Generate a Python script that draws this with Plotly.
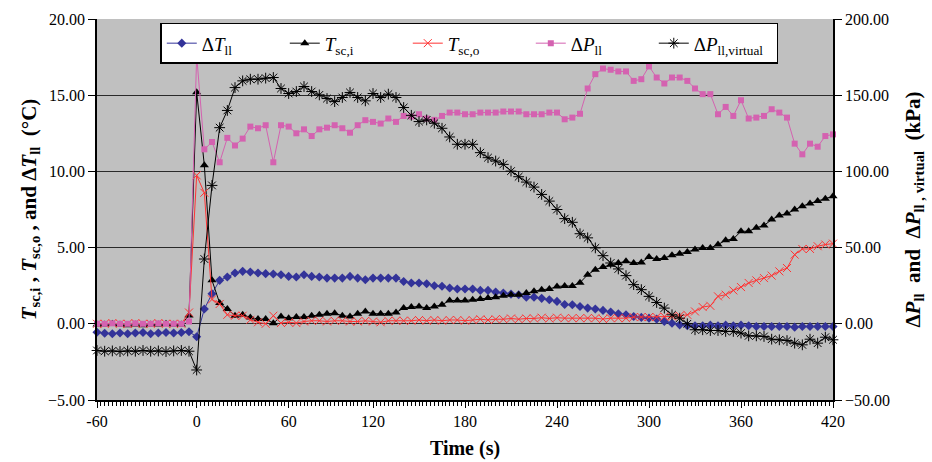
import plotly.graph_objects as go

# Sample number (one logged point per sample) and the time labels shown on the axis
sample = list(range(97))
tick_samples = [0, 13, 25, 36, 48, 60, 72, 84, 96]
tick_labels = ["-60", "0", "60", "120", "180", "240", "300", "360", "420"]

# Liquid-line temperature difference (°C)
dT_ll = [-0.55, -0.62, -0.65, -0.60, -0.65, -0.60, -0.57, -0.65, -0.60, -0.57, -0.60, -0.57, -0.52,
         -0.85, 0.97, 1.97, 2.85, 3.07, 3.33, 3.44, 3.40, 3.33, 3.29, 3.27,
         3.22, 3.11, 3.07, 3.22, 3.11, 3.07, 3.00, 3.00, 3.00, 3.11, 3.00, 2.89, 3.00, 3.00, 3.00, 3.00,
         2.78, 2.68, 2.68, 2.63, 2.50, 2.46, 2.35, 2.28, 2.28, 2.28, 2.19, 2.19, 2.08, 2.02, 1.95, 1.91,
         1.75, 1.75, 1.67, 1.58, 1.47, 1.27, 1.25, 1.14,
         1.03, 0.97, 0.88, 0.77, 0.66, 0.59, 0.48, 0.42, 0.37, 0.31, 0.15, 0.04, -0.07, -0.13,
         -0.13, -0.13, -0.09, -0.13, -0.09, -0.13, -0.09, -0.13, -0.18, -0.18, -0.18, -0.18, -0.18,
         -0.22, -0.18, -0.18, -0.18, -0.18, -0.18]

# Subcooler inlet temperature (°C)
T_sci = [-0.05, -0.05, 0.00, -0.05, -0.10, -0.05, -0.10, -0.05, -0.05, 0.00, -0.05, -0.05, 0.55,
         15.2, 10.4, 2.85, 1.36, 0.97, 0.53, 0.59, 0.42, 0.31, 0.31, 0.04,
         0.48, 0.37, 0.44, 0.44, 0.53, 0.59, 0.66, 0.70, 0.53, 0.48, 0.66, 0.81, 0.66, 0.66, 0.66, 0.74,
         1.03, 1.10, 1.14, 1.03, 1.14, 1.25, 1.53, 1.53, 1.53, 1.58, 1.62, 1.69, 1.75, 1.84, 1.90, 1.90,
         2.02, 2.13, 2.24, 2.28, 2.45, 2.48, 2.48, 2.70,
         3.22, 3.55, 3.73, 3.88, 3.99, 4.10, 3.99, 4.03, 4.39, 4.25, 4.32, 4.50, 4.60, 4.71, 4.87,
         4.98, 4.98, 5.20, 5.48, 5.57, 6.07, 6.07, 6.30, 6.45, 6.84, 7.10, 7.24, 7.50, 7.72, 7.90,
         8.05, 8.20, 8.37]

# Subcooler outlet temperature (°C)
T_sco = [0.00, 0.00, 0.05, 0.00, 0.00, 0.05, 0.00, 0.00, 0.05, 0.00, 0.00, 0.00, 0.74,
         9.74, 8.60, 1.60, 1.30, 0.59, 0.53, 0.53, 0.26, 0.10, 0.00, 0.53, 0.05,
         0.10, 0.05, 0.15, 0.20, 0.20, 0.15, 0.20, 0.20, 0.15, 0.15, 0.20, 0.15, 0.10, 0.20, 0.20,
         0.20, 0.20, 0.25, 0.20, 0.25, 0.20, 0.25, 0.25, 0.20, 0.25, 0.30, 0.25, 0.30, 0.30, 0.35,
         0.30, 0.35, 0.35, 0.40, 0.35, 0.40,
         0.37, 0.37, 0.37, 0.37, 0.37, 0.31, 0.37, 0.37, 0.37, 0.44, 0.44, 0.44, 0.44, 0.48, 0.48,
         0.53, 0.59, 0.81, 1.10, 1.18, 1.80, 1.91, 2.19, 2.41, 2.68, 2.85, 3.00, 3.16, 3.44, 3.66,
         4.54, 4.91, 4.91, 5.09, 5.20, 5.26]

# Liquid-line pressure drop (kPa)
dP_ll = [0.0, 0.0, 0.3, 0.0, 0.0, 0.3, 0.0, 0.0, 0.3, 0.0, 0.0, 0.0, 1.5,
         176.0, 114.5, 119.3, 106.0, 122.0, 117.0, 121.5, 129.4, 128.3, 130.3, 106.0, 130.3,
         129.4, 125.0, 127.6, 123.2, 127.6, 128.7, 130.3, 128.3, 125.4, 130.3,
         133.6, 132.5, 131.4, 134.7, 132.5, 136.4, 136.0, 137.5, 134.7, 133.8,
         136.4, 138.6, 138.6, 137.5, 137.5, 138.6, 138.6, 138.6, 139.3, 139.3,
         139.3, 137.5, 137.5, 137.5, 138.6, 138.6, 134.2, 135.3, 137.8,
         154.4, 163.8, 167.5, 166.7, 165.6, 165.6, 159.4, 160.5, 168.9, 161.6, 157.7, 161.6,
         161.6, 159.4, 154.4, 150.7, 150.7, 137.5, 142.3, 136.4, 146.7, 134.7, 135.3, 136.4,
         140.8, 138.6, 135.3, 118.2, 111.2, 118.2, 116.2, 123.2, 124.3]

# Virtual liquid-line pressure drop (kPa)
dP_ll_virtual = [-17.5, -18.0, -17.8, -18.2, -17.8, -18.0, -17.5, -18.0, -17.8, -18.2, -17.8, -17.5, -18.0,
                 -30.3, 42.5, 90.8, 128.7, 140.0, 155.0, 159.4, 160.5, 160.5, 161.2, 161.6, 154.4,
                 151.1, 152.4, 155.7, 152.4, 150.2, 147.8, 145.8, 148.5, 151.8, 148.5,
                 146.3, 151.1, 148.5, 150.7, 148.5, 141.9, 136.8, 132.7, 133.8, 131.6,
                 128.3, 122.6, 117.8, 117.8, 117.8, 112.3, 109.0, 106.8, 104.6, 100.2,
                 96.5, 93.0, 89.7, 84.9, 80.5, 75.0, 69.0, 66.6, 59.1,
                 56.4, 49.8, 44.7, 39.9, 36.0, 31.6, 25.7, 22.4, 18.0, 14.0, 10.3, 5.9, 3.7, 0.0,
                 -3.9, -3.9, -4.4, -4.4, -5.0, -5.0, -6.1, -7.9, -7.9, -8.3, -10.1, -10.5, -11.0,
                 -12.7, -13.8, -10.1, -12.7, -8.8, -10.5]

SERIF = "Liberation Serif, Times New Roman, serif"
NAVY = "#333399"
RED = "#ff3333"
PINK = "#d462b0"

fig = go.Figure()

fig.add_trace(go.Scatter(
    x=sample, y=dT_ll, name="Δ<i>T</i><sub>ll</sub>", mode="lines+markers",
    line=dict(color=NAVY, width=1),
    marker=dict(symbol="diamond", size=7, color=NAVY),
    cliponaxis=False, yaxis="y"))

fig.add_trace(go.Scatter(
    x=sample, y=T_sci, name="<i>T</i><sub>sc,i</sub>", mode="lines+markers",
    line=dict(color="black", width=1),
    marker=dict(symbol="triangle-up", size=8, color="black"),
    cliponaxis=False, yaxis="y"))

fig.add_trace(go.Scatter(
    x=sample, y=T_sco, name="<i>T</i><sub>sc,o</sub>", mode="lines+markers",
    line=dict(color=RED, width=1),
    marker=dict(symbol="x-thin-open", size=8, color=RED, line=dict(color=RED, width=1)),
    cliponaxis=False, yaxis="y"))

fig.add_trace(go.Scatter(
    x=sample, y=dP_ll, name="Δ<i>P</i><sub>ll</sub>", mode="lines+markers",
    line=dict(color=PINK, width=1),
    marker=dict(symbol="square", size=6, color=PINK),
    cliponaxis=False, yaxis="y2"))

fig.add_trace(go.Scatter(
    x=sample, y=dP_ll_virtual, name="Δ<i>P</i><sub>ll,virtual</sub>", mode="lines+markers",
    line=dict(color="black", width=1),
    marker=dict(symbol="asterisk-open", size=9, color="black", line=dict(color="black", width=1)),
    cliponaxis=False, yaxis="y2"))

fig.update_layout(
    width=932, height=462,
    margin=dict(l=97, r=99, t=19, b=62),
    paper_bgcolor="white",
    plot_bgcolor="#c0c0c0",
    font=dict(family=SERIF, size=16, color="black"),
    showlegend=True,
    legend=dict(
        orientation="h", x=0.086, y=0.99, xanchor="left", yanchor="top",
        bgcolor="white", bordercolor="black", borderwidth=1.5,
        font=dict(family=SERIF, size=19), entrywidth=78,
        tracegroupgap=0,
    ),
    xaxis=dict(
        range=[0, 96], tickmode="array", tickvals=tick_samples, ticktext=tick_labels,
        showgrid=False, zeroline=False, automargin=False,
        showline=True, linecolor="black", linewidth=1.5, mirror=False,
        ticks="outside", ticklen=6, tickcolor="black",
        minor=dict(dtick=0.5, tick0=0, ticks="outside", ticklen=4, tickcolor="black", showgrid=False),
        tickfont=dict(family=SERIF, size=16),
        title=dict(text="<b>Time (s)</b>", font=dict(family=SERIF, size=20), standoff=12),
    ),
    yaxis=dict(
        range=[-5, 20], dtick=5, tick0=0, tickformat=".2f", automargin=False,
        showgrid=True, gridcolor="#2a2a2a", gridwidth=1, zeroline=False,
        showline=True, linecolor="black", linewidth=1.5,
        ticks="outside", ticklen=7, tickcolor="black",
        tickfont=dict(family=SERIF, size=16),
        title=dict(text="<b><i>T</i><sub>sc,i</sub> , <i>T</i><sub>sc,o</sub> , and Δ<i>T</i><sub>ll</sub>  (°C)</b>",
                   font=dict(family=SERIF, size=21), standoff=6),
    ),
    yaxis2=dict(
        range=[-50, 200], dtick=50, tick0=0, tickformat=".2f", automargin=False,
        overlaying="y", side="right", showgrid=False, zeroline=False,
        showline=True, linecolor="black", linewidth=1.5,
        ticks="outside", ticklen=7, tickcolor="black",
        tickfont=dict(family=SERIF, size=16),
        title=dict(text="<b>Δ<i>P</i><sub>ll</sub>  and  Δ<i>P</i><sub>ll , virtual</sub>  (kPa)</b>",
                   font=dict(family=SERIF, size=21), standoff=16),
    ),
)

fig.write_html("out.html")
